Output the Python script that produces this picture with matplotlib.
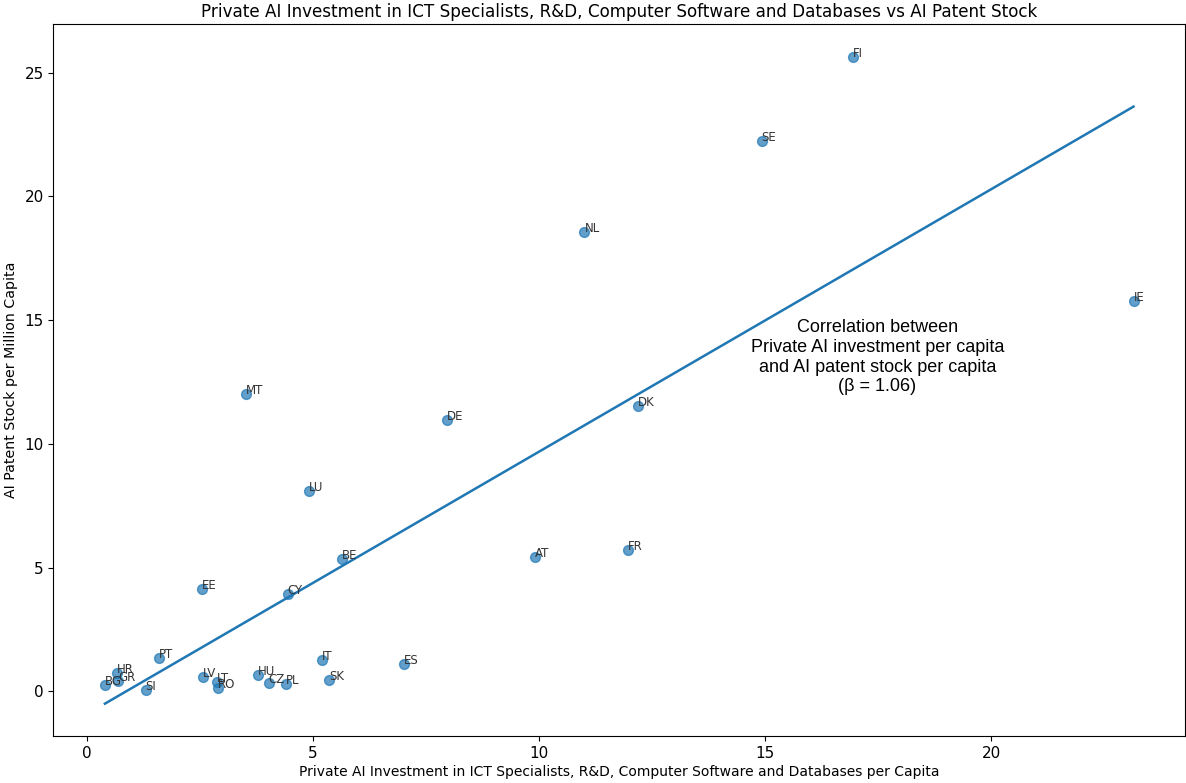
import matplotlib
matplotlib.use("Agg")
import matplotlib.pyplot as plt
import numpy as np

# country codes and values
countries = ["FI", "SE", "NL", "IE", "MT", "DE", "DK", "LU", "BE", "AT", "FR",
             "EE", "CY", "PT", "IT", "ES", "HR", "GR", "BG", "SI", "LV", "LT",
             "RO", "HU", "CZ", "PL", "SK"]
investment = [16.93, 14.92, 11.00, 23.14, 3.51, 7.96, 12.18, 4.91, 5.64, 9.90, 11.96,
              2.54, 4.44, 1.59, 5.19, 7.02, 0.66, 0.69, 0.40, 1.30, 2.56, 2.87,
              2.90, 3.78, 4.02, 4.40, 5.35]
patents = [25.65, 22.26, 18.55, 15.77, 12.02, 10.97, 11.53, 8.10, 5.36, 5.44, 5.73,
           4.15, 3.95, 1.33, 1.25, 1.09, 0.73, 0.40, 0.24, 0.04, 0.56, 0.36,
           0.12, 0.65, 0.32, 0.28, 0.44]

beta = 1.06
note = ("Correlation between\nPrivate AI investment per capita\n"
        "and AI patent stock per capita\n(\u03b2 = %.2f)" % beta)

x = np.array(investment)
y = np.array(patents)

fig = plt.figure(figsize=(11.86, 7.83), dpi=100)
ax = fig.add_axes([0.0451, 0.06, 0.954, 0.909])

ax.scatter(x, y, s=50, alpha=0.7, color="tab:blue")
for code, xi, yi in zip(countries, x, y):
    ax.text(xi, yi, code, fontsize=8.5, color="#333333")

# fitted line over the data range
slope, intercept = np.polyfit(x, y, 1)
xs = np.array([x.min(), x.max()])
ax.plot(xs, slope * xs + intercept, color="tab:blue", lw=1.8)

ax.text(17.48, 13.5, note, ha="center", va="center", fontsize=13,
        family=["Liberation Sans", "DejaVu Sans"])

ax.set_title("Private AI Investment in ICT Specialists, R&D, Computer Software and Databases vs AI Patent Stock",
             fontsize=12.1, pad=5)
ax.set_xlabel("Private AI Investment in ICT Specialists, R&D, Computer Software and Databases per Capita",
              fontsize=10, labelpad=3)
ax.set_ylabel("AI Patent Stock per Million Capita", fontsize=10.2, labelpad=5)
ax.tick_params(labelsize=11)

fig.savefig("out.png", dpi=100)
